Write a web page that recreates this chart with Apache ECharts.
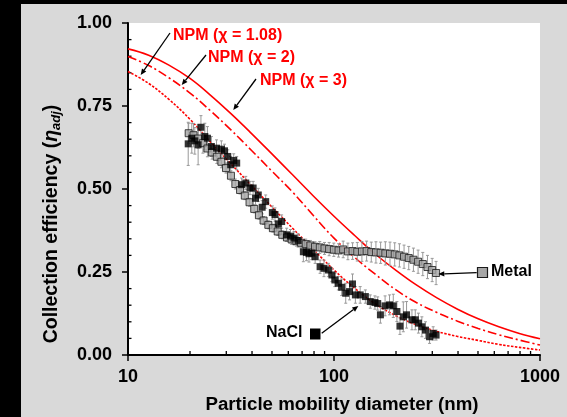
<!DOCTYPE html>
<html><head><meta charset="utf-8">
<script src="https://cdn.jsdelivr.net/npm/echarts@6/dist/echarts.min.js"></script>
<style>html,body{margin:0;padding:0;background:#d9d9d9}#c{width:567px;height:417px}</style>
</head><body><div id="c"></div>
<script>
// ---- data ----
const npmD = [10, 12.6, 15.8, 20, 25.1, 31.6, 39.8, 50.1, 63.1, 79.4, 100, 126, 158, 200, 251, 316, 398, 501, 631, 794, 1000];
const npm3 = [0.922, 0.903, 0.873, 0.833, 0.783, 0.727, 0.667, 0.605, 0.542, 0.479, 0.418, 0.360, 0.305, 0.255, 0.211, 0.172, 0.138, 0.109, 0.085, 0.065, 0.049];
const npm2 = [0.899, 0.872, 0.835, 0.789, 0.736, 0.678, 0.616, 0.553, 0.490, 0.420, 0.352, 0.294, 0.244, 0.196, 0.158, 0.128, 0.102, 0.080, 0.061, 0.045, 0.030];
const npm108 = [0.854, 0.818, 0.770, 0.710, 0.642, 0.576, 0.510, 0.445, 0.381, 0.318, 0.256, 0.201, 0.155, 0.118, 0.091, 0.071, 0.056, 0.044, 0.032, 0.023, 0.015];

const metalD = [19.7, 20.8, 21.9, 23.1, 24.3, 25.6, 27.0, 28.4, 29.9, 31.6,
  33.2, 35.0, 36.9, 38.9, 41.0, 43.2, 45.5, 48.0, 50.5, 53.3,
  56.1, 59.1, 62.3, 65.7, 69.2, 72.9, 76.8, 80.9, 85.3, 89.9,
  94.7, 99.8, 105.2, 110.8, 116.8, 123.1, 129.7, 136.6, 144.0, 151.7,
  159.8, 168.4, 177.5, 187.0, 197.1, 207.7, 218.8, 230.6, 243.0, 256.0,
  269.8, 284.3, 299.6, 313.0];
const metalV = [0.668, 0.662, 0.652, 0.638, 0.622, 0.610, 0.597, 0.582, 0.563, 0.540,
  0.515, 0.497, 0.480, 0.460, 0.440, 0.421, 0.405, 0.392, 0.382, 0.372,
  0.362, 0.354, 0.348, 0.343, 0.338, 0.334, 0.330, 0.326, 0.324, 0.321,
  0.319, 0.317, 0.315, 0.318, 0.312, 0.313, 0.311, 0.312, 0.313, 0.310,
  0.309, 0.308, 0.306, 0.305, 0.303, 0.300, 0.296, 0.292, 0.287, 0.281,
  0.274, 0.265, 0.256, 0.247];
const metalErr = [0.03, 0.035, 0.03, 0.03, 0.025, 0.02, 0.02, 0.018, 0.015, 0.015,
  0.015, 0.012, 0.012, 0.012, 0.012, 0.012, 0.012, 0.012, 0.012, 0.012,
  0.012, 0.012, 0.015, 0.015, 0.015, 0.015, 0.015, 0.015, 0.018, 0.018,
  0.02, 0.02, 0.02, 0.025, 0.025, 0.025, 0.028, 0.03, 0.03, 0.03,
  0.032, 0.032, 0.035, 0.035, 0.035, 0.035, 0.035, 0.035, 0.035, 0.035,
  0.035, 0.035, 0.035, 0.035];

const naclD = [19.6, 20.4, 21.1, 21.9, 22.6, 23.6, 24.3, 25.4, 26.9, 28.4,
  29.4, 30.5, 31.5, 32.6, 33.7, 35.6, 37.3, 39.1, 40.5, 41.6,
  42.9, 44.8, 46.6, 50.2, 51.7, 53.6, 55.7, 58.9, 61.5, 64.0,
  67.0, 71.0, 73.5, 75.6, 78.0, 81.0, 85.6, 89.4, 93.9, 97.7,
  101, 105, 109, 114, 119, 123, 127, 134, 142, 150,
  158, 163, 168, 177, 186, 194, 202, 209, 217, 225,
  239, 248, 257, 267, 278, 291, 303, 313];
const naclV = [0.636, 0.653, 0.645, 0.633, 0.686, 0.658, 0.653, 0.628, 0.623, 0.620,
  0.615, 0.598, 0.573, 0.586, 0.578, 0.513, 0.518, 0.503, 0.503, 0.472,
  0.482, 0.445, 0.462, 0.429, 0.423, 0.395, 0.402, 0.362, 0.358, 0.352,
  0.345, 0.311, 0.309, 0.305, 0.307, 0.296, 0.266, 0.261, 0.256, 0.241,
  0.226, 0.216, 0.204, 0.186, 0.191, 0.214, 0.181, 0.181, 0.176, 0.161,
  0.158, 0.155, 0.121, 0.148, 0.151, 0.148, 0.131, 0.087, 0.115, 0.121,
  0.106, 0.106, 0.096, 0.085, 0.075, 0.055, 0.065, 0.060];
const naclErr = [0.065, 0.045, 0.04, 0.06, 0.035, 0.04, 0.035, 0.03, 0.025, 0.025,
  0.02, 0.02, 0.025, 0.02, 0.02, 0.02, 0.02, 0.02, 0.02, 0.02,
  0.02, 0.02, 0.02, 0.02, 0.02, 0.02, 0.02, 0.02, 0.02, 0.02,
  0.02, 0.03, 0.025, 0.025, 0.02, 0.02, 0.02, 0.025, 0.02, 0.02,
  0.02, 0.02, 0.025, 0.03, 0.025, 0.03, 0.025, 0.025, 0.02, 0.02,
  0.02, 0.02, 0.025, 0.03, 0.03, 0.035, 0.03, 0.025, 0.045, 0.04,
  0.03, 0.03, 0.03, 0.03, 0.025, 0.02, 0.02, 0.015];

const xMinorTicks = [20, 30, 40, 50, 60, 70, 80, 90, 200, 300, 400, 500, 600, 700, 800, 900];
const yMinorTicks = [0.05, 0.10, 0.15, 0.20, 0.30, 0.35, 0.40, 0.45, 0.55, 0.60, 0.65, 0.70, 0.80, 0.85, 0.90, 0.95];

// ---- chart ----
const FONT = 'Liberation Sans, Arial, sans-serif';
const chart = echarts.init(document.getElementById('c'), null, {renderer: 'canvas'});

function errSeries(d, v, e, color) {
  return {
    type: 'custom', silent: true, z: 3,
    data: d.map((x, i) => [x, v[i], e[i]]),
    encode: {x: 0, y: 1},
    renderItem(params, api) {
      const x = api.value(0), y = api.value(1), er = api.value(2);
      const lo = api.coord([x, y - er]), hi = api.coord([x, y + er]);
      const w = 1.5, st = {stroke: color, lineWidth: 1};
      return {type: 'group', children: [
        {type: 'line', shape: {x1: lo[0], y1: lo[1], x2: hi[0], y2: hi[1]}, style: st},
        {type: 'line', shape: {x1: lo[0] - w, y1: lo[1], x2: lo[0] + w, y2: lo[1]}, style: st},
        {type: 'line', shape: {x1: hi[0] - w, y1: hi[1], x2: hi[0] + w, y2: hi[1]}, style: st}
      ]};
    }
  };
}

function arrow(x1, y1, x2, y2) {
  const dx = x2 - x1, dy = y2 - y1, L = Math.hypot(dx, dy);
  const ux = dx / L, uy = dy / L, nx = -uy, ny = ux;
  const hl = 6, hw = 2.6;
  const bx = x2 - ux * hl, by = y2 - uy * hl;
  return [
    {type: 'line', shape: {x1: x1, y1: y1, x2: bx, y2: by}, style: {stroke: '#000', lineWidth: 1.3}, z: 20},
    {type: 'polygon', shape: {points: [[x2, y2], [bx + nx * hw, by + ny * hw], [bx - nx * hw, by - ny * hw]]}, style: {fill: '#000'}, z: 20}
  ];
}

function redText(txt, x, y) {
  return {type: 'text', x: x, y: y, z: 20, style: {text: txt, fill: '#ff0000', font: 'bold 16px ' + FONT, textAlign: 'left', textVerticalAlign: 'middle'}};
}

const graphics = [
  {type: 'rect', shape: {x: 0, y: 0, width: 21, height: 417}, style: {fill: '#000'}, z: 0},
  {type: 'rect', shape: {x: 0, y: 0, width: 567, height: 4}, style: {fill: '#000'}, z: 0},
  {type: 'text', x: 342, y: 405, style: {text: 'Particle mobility diameter (nm)', fill: '#000', font: 'bold 18.7px ' + FONT, textAlign: 'center', textVerticalAlign: 'middle'}},
  {type: 'text', x: 52, y: 224, rotation: Math.PI / 2,
    style: {text: 'Collection efficiency ({eta|η}{sub|adj})', fill: '#000', font: 'bold 19.5px ' + FONT,
      textAlign: 'center', textVerticalAlign: 'middle',
      rich: {
        eta: {font: 'italic bold 19.5px ' + FONT, fill: '#000', lineHeight: 22},
        sub: {font: 'italic bold 13px ' + FONT, fill: '#000', verticalAlign: 'bottom', lineHeight: 11}
      }}},
  redText('NPM (χ = 1.08)', 173, 36),
  redText('NPM (χ = 2)', 208, 58),
  redText('NPM (χ = 3)', 260, 81),
  ...arrow(170, 33, 140.7, 75),
  ...arrow(206, 55, 181.7, 85),
  ...arrow(256, 79, 233.3, 110),
  ...arrow(476.7, 272.7, 438.3, 274),
  ...arrow(321.7, 333.3, 358.3, 306),
  {type: 'rect', shape: {x: 477.5, y: 267.5, width: 10, height: 10}, style: {fill: '#a6a6a6', stroke: '#1a1a1a', lineWidth: 1.2}, z: 20},
  {type: 'text', x: 491, y: 272, z: 20, style: {text: 'Metal', fill: '#000', font: 'bold 16px ' + FONT, textAlign: 'left', textVerticalAlign: 'middle'}},
  {type: 'text', x: 266, y: 333, z: 20, style: {text: 'NaCl', fill: '#000', font: 'bold 16px ' + FONT, textAlign: 'left', textVerticalAlign: 'middle'}},
  {type: 'rect', shape: {x: 310, y: 328.5, width: 10.5, height: 11}, style: {fill: '#000'}, z: 20}
];

const option = {
  animation: false,
  backgroundColor: '#d9d9d9',
  grid: {left: 128, right: 27, top: 23, bottom: 62, show: true, backgroundColor: '#ffffff', borderWidth: 0},
  xAxis: {
    type: 'log', logBase: 10, min: 10, max: 1000,
    axisLine: {show: true, lineStyle: {color: '#000', width: 2}},
    axisTick: {show: true, inside: false, length: 6, lineStyle: {color: '#000', width: 1.5}},
    axisLabel: {margin: 13, color: '#000', fontFamily: FONT, fontWeight: 'bold', fontSize: 18,
      formatter: v => String(Math.round(v))},
    splitLine: {show: false}
  },
  yAxis: {
    type: 'value', min: 0, max: 1, interval: 0.25,
    axisLine: {show: true, lineStyle: {color: '#000', width: 2}},
    axisTick: {show: true, inside: false, length: 6, lineStyle: {color: '#000', width: 1.5}},
    axisLabel: {margin: 16, color: '#000', fontFamily: FONT, fontWeight: 'bold', fontSize: 18,
      formatter: v => v.toFixed(2)},
    splitLine: {show: false}
  },
  series: [
    {type: 'custom', silent: true, z: 1, data: xMinorTicks.map(t => [t, 0]), encode: {x: 0, y: 1},
      renderItem(p, api) { const c = api.coord([api.value(0), 0]);
        return {type: 'line', shape: {x1: c[0], y1: c[1], x2: c[0], y2: c[1] - 4}, style: {stroke: '#000', lineWidth: 1.3}}; }},
    {type: 'custom', silent: true, z: 1, data: yMinorTicks.map(t => [10, t]), encode: {x: 0, y: 1},
      renderItem(p, api) { const c = api.coord([10, api.value(1)]);
        return {type: 'line', shape: {x1: c[0], y1: c[1], x2: c[0] + 3.5, y2: c[1]}, style: {stroke: '#000', lineWidth: 1.3}}; }},
    {type: 'line', name: 'NPM (χ = 3)', data: npmD.map((d, i) => [d, npm3[i]]), smooth: 0.4, symbol: 'none', silent: true, z: 2,
      lineStyle: {color: '#ff0000', width: 1.6, type: 'solid'}},
    {type: 'line', name: 'NPM (χ = 2)', data: npmD.map((d, i) => [d, npm2[i]]), smooth: 0.4, symbol: 'none', silent: true, z: 2,
      lineStyle: {color: '#ff0000', width: 1.6, type: [9, 3, 2, 3]}},
    {type: 'line', name: 'NPM (χ = 1.08)', data: npmD.map((d, i) => [d, npm108[i]]), smooth: 0.4, symbol: 'none', silent: true, z: 2,
      lineStyle: {color: '#ff0000', width: 1.6, type: [2.5, 1.5]}},
    errSeries(metalD, metalV, metalErr, '#999999'),
    errSeries(naclD, naclV, naclErr, '#999999'),
    {type: 'scatter', name: 'Metal', data: metalD.map((d, i) => [d, metalV[i]]), symbol: 'rect', symbolSize: 7, silent: true, z: 4,
      itemStyle: {color: '#a6a6a6', borderColor: '#1a1a1a', borderWidth: 1}},
    {type: 'scatter', name: 'NaCl', data: naclD.map((d, i) => [d, naclV[i]]), symbol: 'rect', symbolSize: 7, silent: true, z: 5,
      itemStyle: {color: '#000000'}}
  ],
  graphic: graphics
};
chart.setOption(option);
</script>
</body></html>
